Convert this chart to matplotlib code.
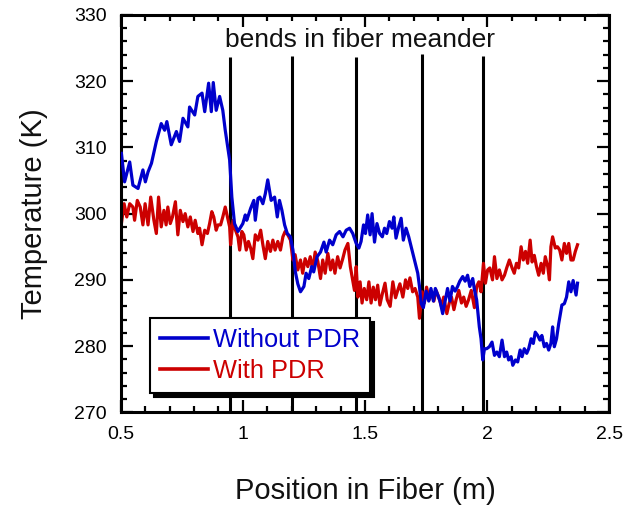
import matplotlib
matplotlib.use("Agg")
import matplotlib.pyplot as plt
from matplotlib.ticker import MultipleLocator

plt.rcParams['font.family'] = ['Liberation Sans', 'DejaVu Sans']

# ---- data ----
without_x = [0.503, 0.516, 0.537, 0.55, 0.571, 0.591, 0.601, 0.612, 0.626, 0.646,
             0.666, 0.68, 0.689, 0.707, 0.728, 0.741, 0.755, 0.775, 0.782, 0.803,
             0.816, 0.833, 0.844, 0.86, 0.871, 0.879, 0.891, 0.905, 0.918, 0.928,
             0.946, 0.955, 0.966, 0.98, 1.0, 1.01, 1.016, 1.032, 1.045, 1.051,
             1.062, 1.07, 1.082, 1.092, 1.102, 1.116, 1.13, 1.141, 1.15, 1.16,
             1.171, 1.182, 1.195, 1.205, 1.215, 1.225, 1.236, 1.25, 1.259, 1.27,
             1.282, 1.29, 1.304, 1.318, 1.332, 1.341, 1.355, 1.368, 1.382, 1.396,
             1.41, 1.423, 1.437, 1.45, 1.464, 1.475, 1.484, 1.494, 1.502, 1.511,
             1.521, 1.529, 1.539, 1.549, 1.56, 1.571, 1.58, 1.589, 1.6, 1.611,
             1.618, 1.627, 1.638, 1.648, 1.657, 1.668, 1.679, 1.689, 1.698, 1.706,
             1.716, 1.723, 1.73, 1.739, 1.75, 1.761, 1.77, 1.78, 1.788, 1.797,
             1.807, 1.818, 1.828, 1.838, 1.848, 1.858, 1.869, 1.879, 1.888, 1.9,
             1.91, 1.92, 1.929, 1.941, 1.948, 1.957, 1.968, 1.975, 1.982, 1.989,
             1.998, 2.009, 2.02, 2.03, 2.04, 2.05, 2.061, 2.071, 2.08, 2.088,
             2.098, 2.105, 2.116, 2.125, 2.135, 2.143, 2.152, 2.162, 2.17, 2.18,
             2.189, 2.197, 2.207, 2.216, 2.224, 2.234, 2.243, 2.252, 2.261, 2.268,
             2.275, 2.284, 2.293, 2.306, 2.316, 2.325, 2.334, 2.343, 2.352, 2.364,
             2.37]
without_T = [309.1, 304.8, 307.8, 304.3, 303.8, 306.6, 304.8, 306.3, 307.6, 310.9,
             313.6, 312.6, 313.9, 310.4, 312.4, 310.9, 314.4, 313.1, 316.1, 314.9,
             317.7, 318.2, 315.4, 319.7, 315.4, 319.8, 315.6, 317.7, 315.6, 312.6,
             308.1, 302.5, 298.5, 297.3, 298.5, 299.8, 299.0, 300.8, 302.0, 299.0,
             302.3, 302.5, 301.5, 303.0, 305.1, 302.0, 302.5, 299.5, 302.0, 300.5,
             298.3, 297.0, 296.5, 294.5, 291.2, 289.4, 288.2, 289.0, 291.0, 290.2,
             292.0, 291.2, 293.5, 294.2, 295.7, 294.2, 296.0, 295.3, 296.8, 297.3,
             296.5, 297.5, 297.8, 297.0, 295.5, 294.8, 295.8, 298.3, 297.0, 299.8,
             296.8, 300.0, 295.7, 298.5, 297.0, 296.5, 297.8, 297.0, 298.8, 297.8,
             299.5, 296.3, 298.0, 299.3, 296.0, 297.8, 296.5, 295.0, 293.7, 292.5,
             291.0, 289.0, 286.4, 285.8, 288.3, 286.8, 288.7, 286.8, 288.7, 287.8,
             286.8, 284.9, 286.8, 288.7, 286.8, 289.0, 288.3, 289.0, 289.8, 290.5,
             289.8, 290.7, 289.0, 290.2, 288.5, 287.0, 282.9, 281.1, 277.9, 279.6,
             279.6, 279.9, 280.6, 278.6, 279.1, 278.4, 280.9, 278.4, 279.1, 277.9,
             278.4, 277.1, 277.9, 277.6, 279.4, 278.4, 279.6, 278.9, 279.6, 281.1,
             280.4, 282.1, 281.6, 280.9, 281.6, 279.9, 280.4, 279.4, 280.4, 282.9,
             279.9, 281.1, 283.4, 286.2, 286.4, 287.4, 289.7, 288.2, 289.9, 287.7,
             289.5]

with_x = [0.503, 0.514, 0.525, 0.537, 0.55, 0.557, 0.568, 0.58, 0.591, 0.6,
          0.612, 0.623, 0.636, 0.646, 0.655, 0.666, 0.677, 0.686, 0.693, 0.703,
          0.712, 0.724, 0.734, 0.744, 0.755, 0.764, 0.775, 0.785, 0.796, 0.805,
          0.816, 0.823, 0.833, 0.844, 0.855, 0.864, 0.873, 0.881, 0.891, 0.898,
          0.909, 0.918, 0.928, 0.936, 0.946, 0.95, 0.96, 0.97, 0.98, 0.987,
          0.996, 1.004, 1.014, 1.023, 1.032, 1.041, 1.051, 1.062, 1.073, 1.082,
          1.092, 1.102, 1.113, 1.123, 1.132, 1.143, 1.154, 1.164, 1.173, 1.184,
          1.195, 1.205, 1.214, 1.225, 1.236, 1.245, 1.255, 1.266, 1.276, 1.286,
          1.296, 1.307, 1.318, 1.327, 1.337, 1.348, 1.359, 1.368, 1.377, 1.388,
          1.398, 1.409, 1.418, 1.43, 1.44, 1.448, 1.457, 1.464, 1.471, 1.48,
          1.488, 1.497, 1.507, 1.516, 1.525, 1.534, 1.543, 1.552, 1.561, 1.571,
          1.582, 1.591, 1.603, 1.614, 1.625, 1.634, 1.643, 1.655, 1.666, 1.675,
          1.684, 1.695, 1.705, 1.716, 1.723, 1.734, 1.743, 1.752, 1.763, 1.773,
          1.782, 1.791, 1.802, 1.813, 1.822, 1.835, 1.845, 1.854, 1.864, 1.873,
          1.884, 1.895, 1.904, 1.914, 1.924, 1.935, 1.948, 1.957, 1.966, 1.975,
          1.985, 1.993, 2.002, 2.011, 2.022, 2.03, 2.04, 2.05, 2.061, 2.071,
          2.08, 2.091, 2.102, 2.111, 2.12, 2.129, 2.139, 2.148, 2.157, 2.166,
          2.176, 2.184, 2.193, 2.202, 2.211, 2.221, 2.23, 2.238, 2.248, 2.255,
          2.261, 2.268, 2.279, 2.288, 2.297, 2.306, 2.316, 2.325, 2.334, 2.343,
          2.352, 2.361, 2.37]
with_T = [298.5, 301.5, 299.5, 301.5, 301.0, 299.0, 302.0, 301.0, 298.3, 301.5,
          298.3, 302.5, 299.0, 297.0, 302.5, 298.0, 300.5, 298.3, 301.0, 298.5,
          299.5, 301.8, 296.8, 300.5, 298.8, 300.0, 298.0, 299.5, 297.3, 299.0,
          297.0, 297.8, 295.3, 297.5, 297.0, 298.5, 300.3, 299.5, 297.5, 298.3,
          298.3, 299.5, 301.0, 299.7, 298.0, 295.3, 299.0, 297.5, 296.5, 294.5,
          297.3, 296.8, 294.5, 295.8, 294.8, 293.2, 296.8, 296.0, 297.5, 295.3,
          293.2, 295.8, 294.3, 296.0, 294.5, 295.8, 294.5, 296.5, 297.3, 296.8,
          296.0, 293.0, 293.8, 291.5, 293.0, 291.0, 293.2, 292.0, 293.5, 291.5,
          294.2, 292.8, 290.2, 293.0, 291.0, 294.0, 291.5, 293.0, 291.0, 293.5,
          291.8, 293.2, 294.5, 295.5, 292.0, 290.3, 288.4, 292.0, 287.4, 289.7,
          286.5, 288.7, 287.0, 289.7, 286.5, 288.9, 287.0, 289.2, 286.2, 287.9,
          289.5, 287.0, 286.0, 289.7, 287.3, 288.4, 289.4, 287.4, 290.0, 288.7,
          290.3, 288.2, 288.7, 287.4, 284.2, 288.2, 286.5, 288.9, 287.0, 288.2,
          286.8, 288.4, 287.4, 286.0, 287.4, 284.9, 286.5, 287.4, 285.5, 287.0,
          288.4, 286.5, 287.4, 286.0, 287.0, 288.4, 285.8, 289.0, 289.7, 288.2,
          292.5, 289.5, 291.5, 291.8, 290.0, 293.5, 290.2, 291.5, 290.0, 290.7,
          291.8, 293.0, 291.8, 291.0, 292.5, 291.8, 295.0, 293.0, 294.3, 292.5,
          296.0, 292.7, 293.7, 292.0, 290.7, 292.5, 291.0, 293.5, 292.0, 290.0,
          295.0, 296.5, 294.8, 295.0, 294.5, 293.0, 295.5, 294.0, 295.5, 293.0,
          293.0, 294.3, 295.3]

bend_x = [0.946, 1.203, 1.462, 1.733, 1.985]
bend_top = [323.6, 323.8, 323.6, 324.1, 323.8]

series_labels = ["Without PDR", "With PDR"]
series_colors = ["#0000CC", "#CC0000"]
annotation = "bends in fiber meander"
x_label = "Position in Fiber (m)"
y_label = "Temperature (K)"

# ---- figure ----
fig = plt.figure(figsize=(6.23, 5.08), dpi=100)
ax = fig.add_axes([0.1937, 0.1884, 0.7843, 0.7821])

for bx, bt in zip(bend_x, bend_top):
    ax.plot([bx, bx], [270, bt], color="black", lw=2.2, solid_capstyle="butt", zorder=1)

ax.plot(without_x, without_T, color=series_colors[0], lw=2.3, label=series_labels[0], zorder=3)
ax.plot(with_x, with_T, color=series_colors[1], lw=2.3, label=series_labels[1], zorder=2)

ax.text(1.48, 326.2, annotation, ha="center", va="center", fontsize=19, color="#111111")

ax.set_xlim(0.5, 2.5)
ax.set_ylim(270, 330)
ax.xaxis.set_minor_locator(MultipleLocator(0.1))
ax.yaxis.set_major_locator(MultipleLocator(10))
ax.yaxis.set_minor_locator(MultipleLocator(2))
ax.set_xticks([0.5, 1.0, 1.5, 2.0, 2.5])
ax.set_xticklabels(["0.5", "1", "1.5", "2", "2.5"])

ax.tick_params(which="both", direction="in", top=True, right=True, width=1.6,
               labelsize=14, pad=10, color="black")
ax.tick_params(which="major", length=8.5)
ax.tick_params(which="minor", length=4.5)
for s in ax.spines.values():
    s.set_linewidth(2.2)

ax.set_xlabel(x_label, fontsize=21, labelpad=24, color="#111111")
ax.set_ylabel(y_label, fontsize=21, labelpad=19, color="#111111")

leg = ax.legend(loc="lower left", bbox_to_anchor=(0.06, 0.0486), borderaxespad=0,
                fontsize=18.3, frameon=True, fancybox=False, framealpha=1,
                edgecolor="black", handlelength=1.9, handletextpad=0.2,
                labelspacing=0.3, borderpad=0.38,
                shadow={"color": "black", "alpha": 1, "ox": 3, "oy": -3})
leg.get_frame().set_linewidth(1.5)
for t, c in zip(leg.get_texts(), series_colors):
    t.set_color(c)
for h in leg.get_lines():
    h.set_linewidth(2.6)

fig.savefig("out.png", dpi=100)
